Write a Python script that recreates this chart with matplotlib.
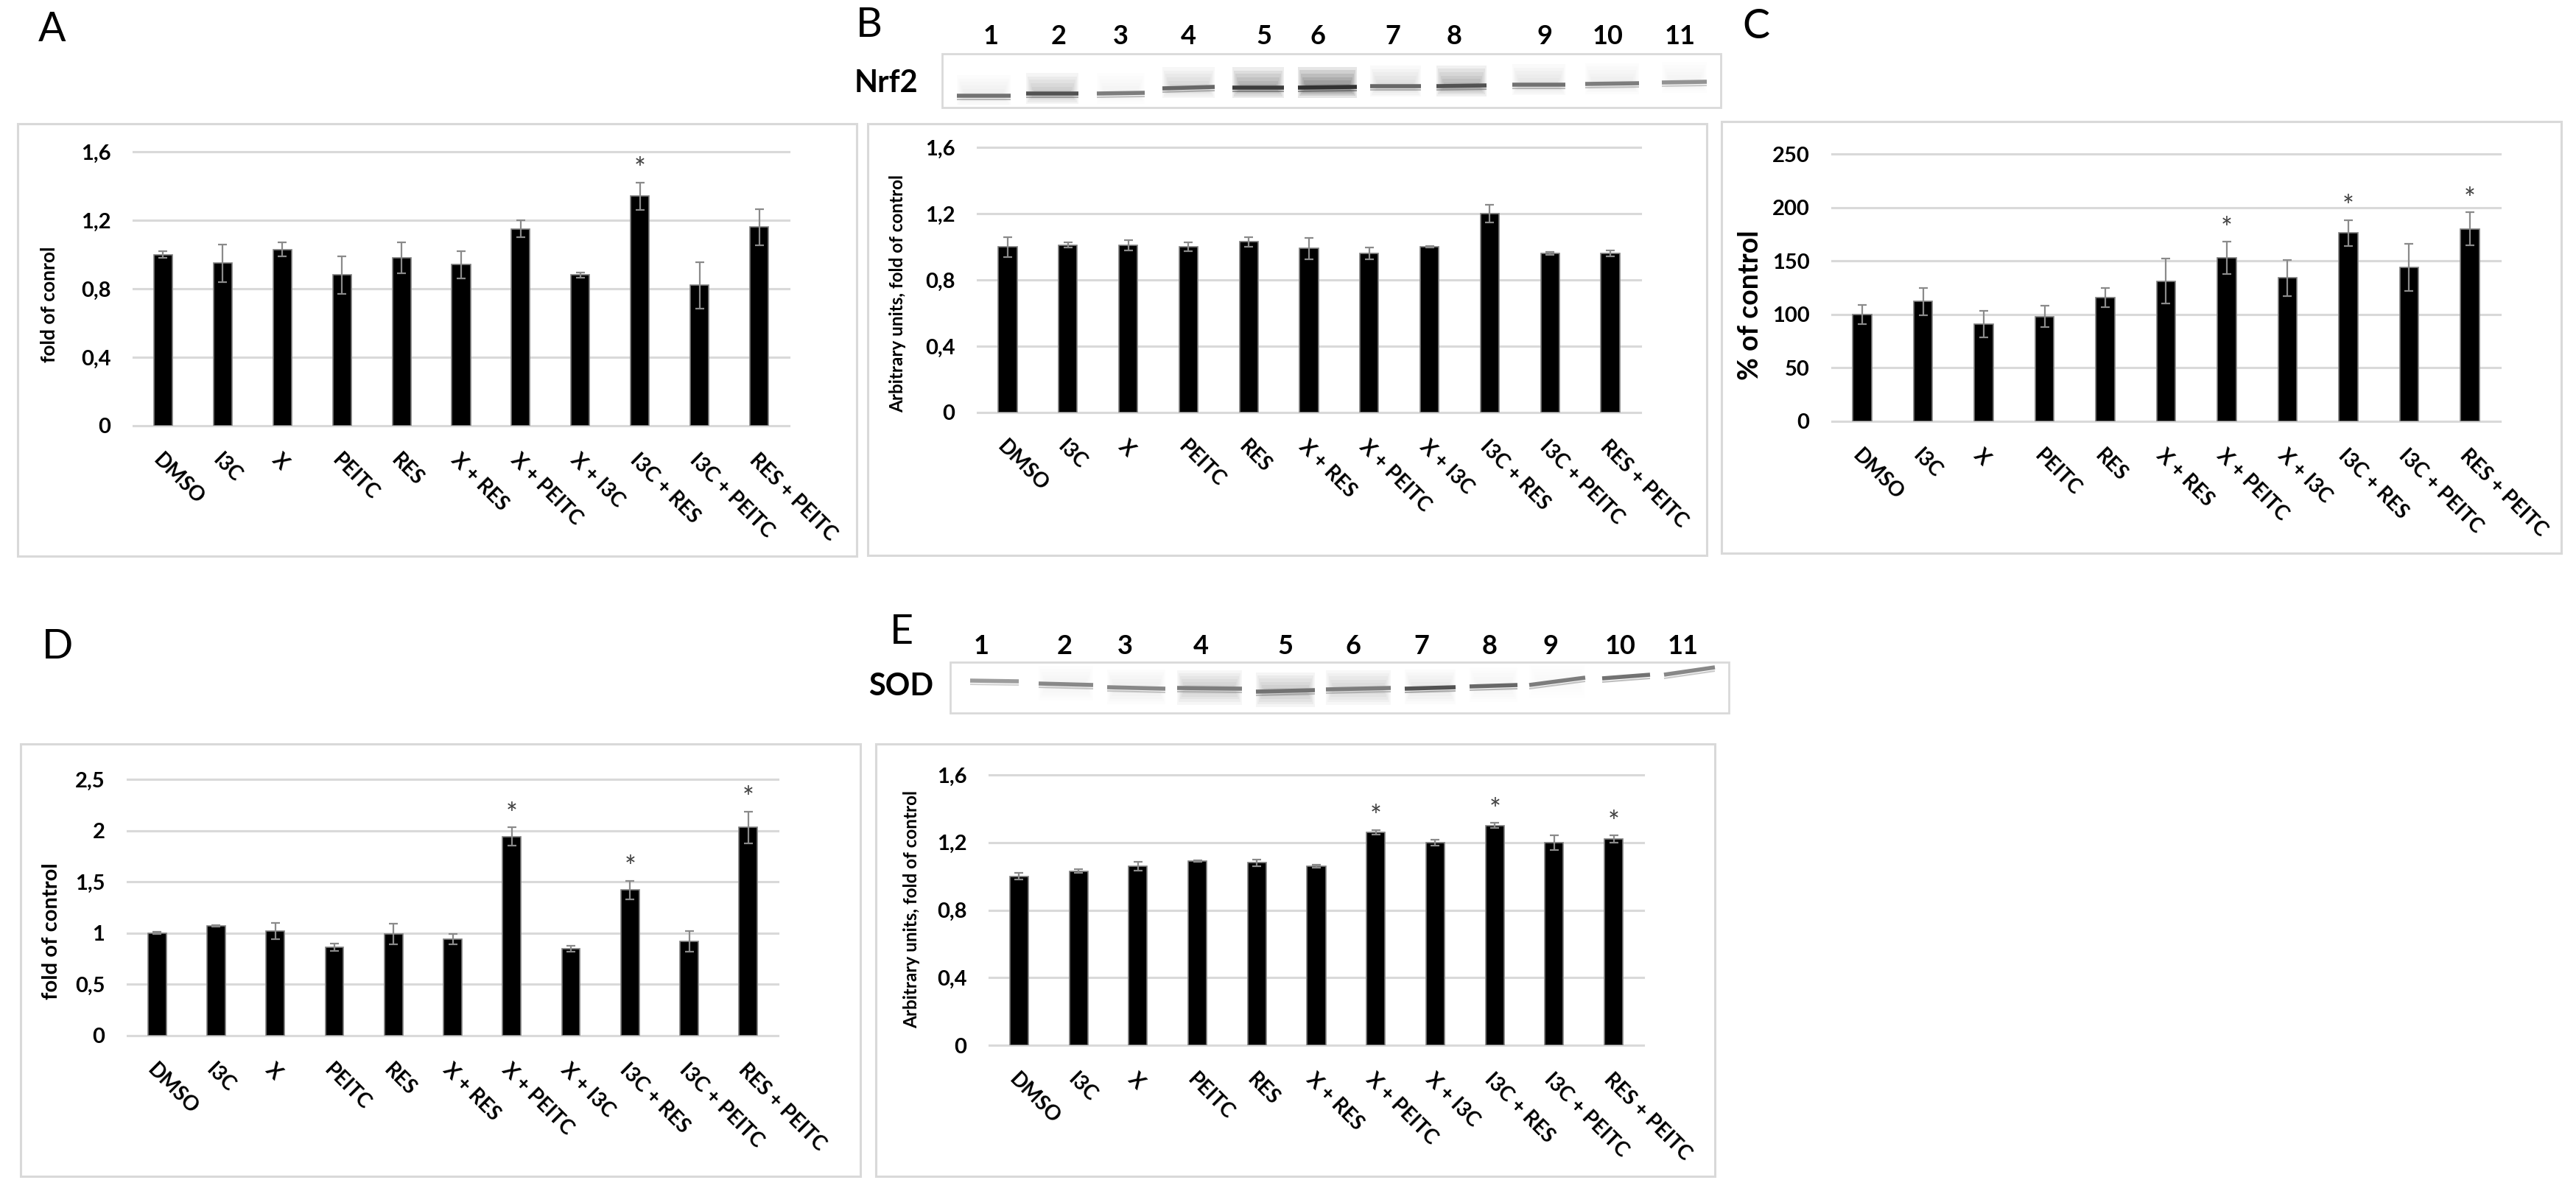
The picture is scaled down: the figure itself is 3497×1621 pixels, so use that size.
import matplotlib.pyplot as plt
from matplotlib.patches import Rectangle

plt.rcParams['font.family'] = ['Lato', 'DejaVu Sans']

W, H = 3498, 1621

categories = ['DMSO', 'I3C', 'X', 'PEITC', 'RES', 'X + RES', 'X + PEITC',
              'X + I3C', 'I3C + RES', 'I3C + PEITC', 'RES + PEITC']

# A: fold of control
a_values = [1.00, 0.95, 1.03, 0.88, 0.98, 0.94, 1.15, 0.88, 1.34, 0.82, 1.16]
a_errors = [0.02, 0.11, 0.04, 0.11, 0.09, 0.08, 0.05, 0.015, 0.08, 0.135, 0.105]
a_stars = [0, 0, 0, 0, 0, 0, 0, 0, 1, 0, 0]

# B: Nrf2 densitometry
b_values = [1.00, 1.01, 1.01, 1.00, 1.03, 0.99, 0.96, 1.00, 1.20, 0.96, 0.96]
b_errors = [0.06, 0.015, 0.03, 0.025, 0.03, 0.065, 0.035, 0.005, 0.055, 0.01, 0.018]
b_stars = [0, 0, 0, 0, 0, 0, 0, 0, 0, 0, 0]

# C: % of control
c_values = [100, 112, 91, 98, 116, 131, 153, 134, 176, 144, 180]
c_errors = [9, 13, 12.5, 10, 9, 21, 15, 17, 12, 22, 15.5]
c_stars = [0, 0, 0, 0, 0, 0, 1, 0, 1, 0, 1]

# D: fold of control
d_values = [1.00, 1.07, 1.02, 0.86, 0.99, 0.94, 1.94, 0.85, 1.42, 0.92, 2.03]
d_errors = [0.01, 0.01, 0.08, 0.035, 0.10, 0.05, 0.09, 0.03, 0.09, 0.10, 0.155]
d_stars = [0, 0, 0, 0, 0, 0, 1, 0, 1, 0, 1]

# E: SOD densitometry
e_values = [1.00, 1.03, 1.06, 1.09, 1.08, 1.06, 1.26, 1.20, 1.30, 1.20, 1.22]
e_errors = [0.02, 0.01, 0.025, 0.005, 0.02, 0.008, 0.013, 0.017, 0.015, 0.043, 0.022]
e_stars = [0, 0, 0, 0, 0, 0, 1, 0, 1, 0, 1]

ticks_16 = [0, 0.4, 0.8, 1.2, 1.6]
labels_16 = ['0', '0,4', '0,8', '1,2', '1,6']
ticks_c = [0, 50, 100, 150, 200, 250]
labels_c = ['0', '50', '100', '150', '200', '250']
ticks_d = [0, 0.5, 1, 1.5, 2, 2.5]
labels_d = ['0', '0,5', '1', '1,5', '2', '2,5']

# blot band darkness (0 = none, 1 = black)
lanes = [1, 2, 3, 4, 5, 6, 7, 8, 9, 10, 11]
nrf2_band = [0.65, 0.8, 0.6, 0.7, 0.9, 0.95, 0.7, 0.8, 0.65, 0.6, 0.5]
nrf2_smear = [0.1, 0.35, 0.05, 0.25, 0.6, 0.85, 0.2, 0.5, 0.15, 0.1, 0.05]
sod_band = [0.45, 0.55, 0.55, 0.6, 0.65, 0.6, 0.8, 0.7, 0.6, 0.65, 0.55]
sod_smear = [0.0, 0.05, 0.08, 0.3, 0.35, 0.25, 0.12, 0.06, 0.03, 0.0, 0.0]

# layout in figure pixels (origin top-left)
GRID = '#d9d9d9'
NRF2_BOX = (1279, 73, 2336, 146)
NRF2_NUM_X = [1345, 1437, 1521, 1613, 1716, 1789, 1891, 1974, 2097, 2183, 2281]
NRF2_LANES = [(1299, 1372, 130, 130), (1393, 1464, 127, 127), (1489, 1554, 127, 126),
              (1578, 1649, 120, 118), (1673, 1743, 119, 119), (1762, 1842, 119, 118),
              (1860, 1929, 117, 117), (1950, 2018, 117, 116), (2053, 2125, 115, 115),
              (2152, 2225, 114, 113), (2256, 2317, 112, 111)]
SOD_BOX = (1290, 899, 2347, 968)
SOD_NUM_X = [1332, 1445, 1527, 1630, 1745, 1837, 1930, 2022, 2105, 2200, 2285]
SOD_LANES = [(1317, 1383, 924, 925), (1410, 1484, 928, 930), (1503, 1582, 933, 935),
             (1598, 1686, 934, 935), (1705, 1785, 939, 937), (1800, 1888, 936, 934),
             (1907, 1976, 935, 933), (1995, 2060, 932, 930), (2076, 2152, 930, 920),
             (2175, 2240, 921, 916), (2259, 2328, 916, 906)]


def px_axes(fig, x0, y0, x1, y1):
    return fig.add_axes([x0 / W, 1 - y1 / H, (x1 - x0) / W, (y1 - y0) / H])


def draw_bars(ax, values, errors, stars, ymax, ticks, ticklabels):
    x = list(range(len(categories)))
    ax.bar(x, values, width=0.31, color='black', edgecolor='#7f7f7f',
           linewidth=1.2, zorder=3)
    ax.errorbar(x, values, yerr=errors, fmt='none', ecolor='#8a8a8a',
                elinewidth=1.6, capsize=4, capthick=1.6, zorder=4)
    for i, s in enumerate(stars):
        if s:
            ax.annotate('*', (i, values[i] + errors[i]), xytext=(0, 4),
                        textcoords='offset points', ha='center', va='baseline',
                        fontsize=27, color='#404040')
    ax.set_xlim(-0.5, len(categories) - 0.5)
    ax.set_ylim(0, ymax)
    ax.set_yticks(ticks)
    ax.set_yticklabels(ticklabels, fontsize=21, fontweight='bold')
    ax.set_xticks(x)
    ax.set_xticklabels(categories, rotation=-45, ha='left', va='top',
                       rotation_mode='anchor', fontsize=20, fontweight='bold')
    ax.tick_params(axis='y', length=0, pad=22)
    ax.tick_params(axis='x', length=0, pad=24)
    ax.grid(axis='y', color=GRID, linewidth=2.2)
    ax.set_axisbelow(True)
    for line in ax.get_ygridlines():
        line.set_clip_on(False)
    for sp in ax.spines.values():
        sp.set_visible(False)
    ax.patch.set_alpha(0)


def draw_blot(canvas, box, lane_pos, band, smear, up, down):
    x0, y0, x1, y1 = box
    canvas.add_patch(Rectangle((x0, y0), x1 - x0, y1 - y0, fill=False,
                               ec=GRID, lw=2))
    for (lx0, lx1, yl, yr), b, s in zip(lane_pos, band, smear):
        yc = (yl + yr) / 2
        # soft smear: stacked layers that thin out towards the band
        if s > 0:
            for k in range(6):
                f = 1 - k / 6
                top = max(y0 + 3, yc - up * f)
                bot = min(y1 - 3, yc + down * f)
                canvas.add_patch(Rectangle((lx0 + 2 * k, top), lx1 - lx0 - 4 * k,
                                           bot - top, color='#4a4a4a',
                                           alpha=s * 0.16, lw=0))
        g = 1 - 0.85 * b
        canvas.plot([lx0, lx1], [yl + 5, yr + 5], color=(g, g, g), lw=1.5,
                    alpha=0.45, solid_capstyle='butt')
        canvas.plot([lx0, lx1], [yl, yr], color=(g, g, g), lw=4,
                    solid_capstyle='butt')


fig = plt.figure(figsize=(W / 100, H / 100), dpi=100)
canvas = fig.add_axes([0, 0, 1, 1], zorder=-1)
canvas.set_xlim(0, W)
canvas.set_ylim(H, 0)
canvas.axis('off')

panels = [
    # letter, letter xy, box, plot area, data, ylabel, ylabel xy, size
    ('A', (52, 40), (24, 168, 1163, 755), (181, 206, 1071, 578),
     (a_values, a_errors, a_stars, 1.6, ticks_16, labels_16),
     'fold of conrol', (67, 413), 19),
    ('B', (1162, 34), (1178, 168, 2317, 754), (1327, 200, 2227, 560),
     (b_values, b_errors, b_stars, 1.6, ticks_16, labels_16),
     'Arbitrary units, fold of control', (1219, 398), 17.5),
    ('C', (2365, 37), (2337, 165, 3477, 751), (2487, 209, 3394, 572),
     (c_values, c_errors, c_stars, 250, ticks_c, labels_c),
     '% of control', (2376, 414), 27),
    ('D', (57, 878), (28, 1010, 1168, 1597), (173, 1058, 1056, 1406),
     (d_values, d_errors, d_stars, 2.5, ticks_d, labels_d),
     'fold of control', (70, 1264), 21),
    ('E', (1208, 858), (1189, 1010, 2328, 1597), (1343, 1052, 2231, 1419),
     (e_values, e_errors, e_stars, 1.6, ticks_16, labels_16),
     'Arbitrary units, fold of control', (1238, 1235), 17.5),
]

for letter, lxy, box, plot, data, ylabel, yl_xy, yl_size in panels:
    bx0, by0, bx1, by1 = box
    canvas.add_patch(Rectangle((bx0, by0), bx1 - bx0, by1 - by0, fill=False,
                               ec=GRID, lw=2.2))
    canvas.text(lxy[0], lxy[1], letter, fontsize=40, ha='left', va='center')
    canvas.text(yl_xy[0], yl_xy[1], ylabel, fontsize=yl_size, fontweight='bold',
                rotation=90, ha='center', va='center')
    ax = px_axes(fig, *plot)
    draw_bars(ax, *data)

# western blot strips
canvas.text(1160, 113, 'Nrf2', fontsize=30, fontweight='bold', ha='left', va='center')
for n, x in zip(lanes, NRF2_NUM_X):
    canvas.text(x, 50, str(n), fontsize=26, fontweight='bold', ha='center', va='center')
draw_blot(canvas, NRF2_BOX, NRF2_LANES, nrf2_band, nrf2_smear, 28, 14)

canvas.text(1179, 932, 'SOD', fontsize=30, fontweight='bold', ha='left', va='center')
for n, x in zip(lanes, SOD_NUM_X):
    canvas.text(x, 877, str(n), fontsize=26, fontweight='bold', ha='center', va='center')
draw_blot(canvas, SOD_BOX, SOD_LANES, sod_band, sod_smear, 25, 22)

fig.savefig('out.png', dpi=100)
